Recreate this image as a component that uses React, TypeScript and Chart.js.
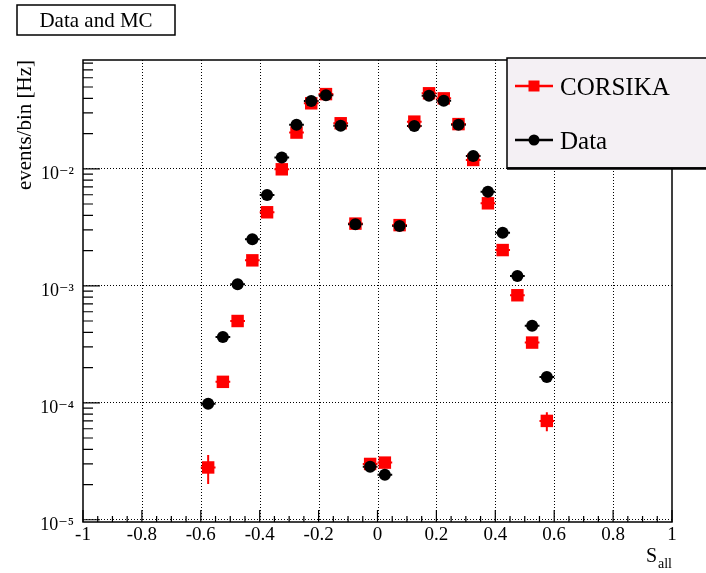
import React, { useEffect, useRef } from 'react';
import { Chart, registerables } from 'chart.js';

Chart.register(...registerables);

const FONT = '"Liberation Serif", "DejaVu Serif", "Times New Roman", serif';

// ---- data ----
const binCenters = [
  -0.575, -0.525, -0.475, -0.425, -0.375, -0.325, -0.275, -0.225, -0.175, -0.125, -0.075, -0.025,
  0.025, 0.075, 0.125, 0.175, 0.225, 0.275, 0.325, 0.375, 0.425, 0.475, 0.525, 0.575,
];
const binHalfWidth = 0.025;

const corsikaValues = [
  2.8e-5, 1.51e-4, 5.0e-4, 1.65e-3, 4.25e-3, 9.9e-3, 0.0204, 0.0363, 0.0435, 0.0245, 3.4e-3, 3.0e-5,
  3.08e-5, 3.3e-3, 0.0253, 0.0442, 0.04, 0.0241, 0.0119, 5.07e-3, 2.02e-3, 8.3e-4, 3.27e-4, 7.0e-5,
];
const corsikaErrors = [
  0.78e-5, 1.2e-5, 2.5e-5, 5e-5, 1e-4, 2e-4, 3e-4, 4e-4, 5e-4, 3e-4, 6e-5, 2e-6,
  2e-6, 6e-5, 3e-4, 5e-4, 5e-4, 3e-4, 2e-4, 1.2e-4, 7e-5, 4e-5, 2e-5, 1.3e-5,
];

const dataValues = [
  9.8e-5, 3.65e-4, 1.03e-3, 2.5e-3, 5.97e-3, 0.0125, 0.0238, 0.038, 0.0425, 0.0233, 3.36e-3, 2.84e-5,
  2.42e-5, 3.25e-3, 0.0232, 0.0422, 0.0382, 0.0238, 0.01285, 6.37e-3, 2.84e-3, 1.21e-3, 4.56e-4, 1.66e-4,
];
const dataErrors = [
  2e-6, 5e-6, 1e-5, 2e-5, 4e-5, 8e-5, 1.5e-4, 2e-4, 2e-4, 1.5e-4, 3e-5, 1e-6,
  1e-6, 3e-5, 1.5e-4, 2e-4, 2e-4, 1.5e-4, 8e-5, 4e-5, 2e-5, 1e-5, 5e-6, 3e-6,
];

const seriesLabels = ['CORSIKA', 'Data'];

const xTickValues = [-1, -0.8, -0.6, -0.4, -0.2, 0, 0.2, 0.4, 0.6, 0.8, 1];
const xTickLabels = ['-1', '-0.8', '-0.6', '-0.4', '-0.2', '0', '0.2', '0.4', '0.6', '0.8', '1'];
const yTickValues = [1e-5, 1e-4, 1e-3, 1e-2];
const yTickLabels = ['10\u207B\u2075', '10\u207B\u2074', '10\u207B\u00B3', '10\u207B\u00B2'];

const chartTitle = 'Data and MC';
const xTitleMain = 'S';
const xTitleSub = 'all';
const yTitle = 'events/bin [Hz]';

const X_MIN = -1;
const X_MAX = 1;
const Y_MIN = 9.57e-6;
const Y_MAX = 0.0851;

const gridPlugin = {
  id: 'dottedGrid',
  beforeDatasetsDraw(chart: any) {
    const { ctx, chartArea } = chart;
    const { left, right, top, bottom } = chartArea;
    const xs = chart.scales.x;
    const ys = chart.scales.y;
    ctx.save();
    ctx.strokeStyle = '#000';
    ctx.lineWidth = 1;
    ctx.setLineDash([1, 2]);
    ctx.beginPath();
    xTickValues.forEach((v) => {
      if (Math.abs(v) > 0.999) return;
      const px = Math.round(xs.getPixelForValue(v)) + 0.5;
      ctx.moveTo(px, top);
      ctx.lineTo(px, bottom);
    });
    yTickValues.forEach((v) => {
      const py = Math.round(ys.getPixelForValue(v)) - 0.5;
      ctx.moveTo(left, py);
      ctx.lineTo(right, py);
    });
    ctx.stroke();
    ctx.restore();
  },
};

const errorBarPlugin = {
  id: 'errorBars',
  beforeDatasetsDraw(chart: any) {
    const { ctx } = chart;
    const xs = chart.scales.x;
    const ys = chart.scales.y;
    ctx.save();
    chart.data.datasets.forEach((ds: any) => {
      ctx.strokeStyle = ds.borderColor;
      ctx.lineWidth = 2;
      ds.data.forEach((p: any, j: number) => {
        const px = xs.getPixelForValue(p.x);
        const py = ys.getPixelForValue(p.y);
        const x1 = xs.getPixelForValue(p.x - binHalfWidth);
        const x2 = xs.getPixelForValue(p.x + binHalfWidth);
        const e = ds.errors[j];
        const y1 = ys.getPixelForValue(p.y + e);
        const y2 = ys.getPixelForValue(Math.max(p.y - e, 1e-9));
        ctx.beginPath();
        ctx.moveTo(x1, py);
        ctx.lineTo(x2, py);
        ctx.moveTo(px, y1);
        ctx.lineTo(px, y2);
        ctx.stroke();
      });
    });
    ctx.restore();
  },
};

const framePlugin = {
  id: 'rootFrame',
  afterDraw(chart: any) {
    const { ctx, chartArea } = chart;
    const { left, right, top, bottom } = chartArea;
    const xs = chart.scales.x;
    const ys = chart.scales.y;
    ctx.save();
    // frame
    ctx.strokeStyle = '#000';
    ctx.lineWidth = 1.5;
    ctx.strokeRect(left, top, right - left, bottom - top);

    // x ticks (inward)
    ctx.lineWidth = 1.2;
    ctx.beginPath();
    for (let k = 0; k <= 40; k++) {
      const v = X_MIN + k * 0.05;
      const px = xs.getPixelForValue(v);
      const len = k % 4 === 0 ? 12 : 6;
      ctx.moveTo(px, bottom);
      ctx.lineTo(px, bottom - len);
    }
    // y ticks (inward)
    for (let d = -6; d <= -1; d++) {
      for (let m = 1; m <= 9; m++) {
        const v = m * Math.pow(10, d);
        if (v < Y_MIN || v > Y_MAX) continue;
        const py = ys.getPixelForValue(v);
        const len = m === 1 ? 17 : 10;
        ctx.moveTo(left, py);
        ctx.lineTo(left + len, py);
      }
    }
    ctx.stroke();

    // x axis title with subscript
    ctx.fillStyle = '#000';
    ctx.textBaseline = 'alphabetic';
    ctx.textAlign = 'left';
    ctx.font = `20px ${FONT}`;
    ctx.fillText(xTitleMain, 646, 562);
    ctx.font = `14px ${FONT}`;
    ctx.fillText(xTitleSub, 658, 568);

    // title box
    ctx.fillStyle = '#fff';
    ctx.fillRect(17, 5, 158, 30);
    ctx.strokeStyle = '#000';
    ctx.lineWidth = 1.5;
    ctx.strokeRect(17, 5, 158, 30);
    ctx.fillStyle = '#000';
    ctx.font = `21px ${FONT}`;
    ctx.textAlign = 'center';
    ctx.textBaseline = 'middle';
    ctx.fillText(chartTitle, 96, 21);

    // legend
    const lx = 507;
    const ly = 58;
    const lw = 230;
    const lh = 110;
    ctx.fillStyle = '#f4f0f4';
    ctx.fillRect(lx, ly, lw, lh);
    ctx.strokeStyle = '#000';
    ctx.lineWidth = 1.5;
    ctx.strokeRect(lx, ly, lw, lh);
    ctx.lineWidth = 2.5;
    ctx.beginPath();
    ctx.moveTo(lx, ly + lh + 0.5);
    ctx.lineTo(lx + lw, ly + lh + 0.5);
    ctx.stroke();

    const entries = [
      { label: seriesLabels[0], color: '#ff0000', y: 86, style: 'rect' },
      { label: seriesLabels[1], color: '#000000', y: 140, style: 'circle' },
    ];
    entries.forEach((e) => {
      ctx.strokeStyle = e.color;
      ctx.fillStyle = e.color;
      ctx.lineWidth = 2.5;
      ctx.beginPath();
      ctx.moveTo(515, e.y);
      ctx.lineTo(553, e.y);
      ctx.stroke();
      if (e.style === 'rect') {
        ctx.fillRect(528.5, e.y - 5.5, 11, 11);
      } else {
        ctx.beginPath();
        ctx.arc(534, e.y, 5.5, 0, Math.PI * 2);
        ctx.fill();
      }
      ctx.fillStyle = '#000';
      ctx.font = `25px ${FONT}`;
      ctx.textAlign = 'left';
      ctx.textBaseline = 'middle';
      ctx.fillText(e.label, 560, e.y + 2);
    });
    ctx.restore();
  },
};

export default function App() {
  const canvasRef = useRef<HTMLCanvasElement | null>(null);

  useEffect(() => {
    if (!canvasRef.current) return;
    const corsikaPoints = binCenters.map((x, i) => ({ x, y: corsikaValues[i] }));
    const dataPoints = binCenters.map((x, i) => ({ x, y: dataValues[i] }));

    const chart = new Chart(canvasRef.current, {
      type: 'scatter',
      data: {
        datasets: [
          {
            label: seriesLabels[0],
            data: corsikaPoints,
            errors: corsikaErrors,
            borderColor: '#ff0000',
            backgroundColor: '#ff0000',
            pointStyle: 'rect',
            pointRadius: 8.8,
            pointBorderWidth: 0,
            showLine: false,
            order: 2,
          } as any,
          {
            label: seriesLabels[1],
            data: dataPoints,
            errors: dataErrors,
            borderColor: '#000000',
            backgroundColor: '#000000',
            pointStyle: 'circle',
            pointRadius: 6,
            pointBorderWidth: 0,
            showLine: false,
            order: 1,
          } as any,
        ],
      },
      options: {
        animation: false,
        responsive: false,
        devicePixelRatio: 1,
        layout: { padding: { top: 60, right: 34, left: 0, bottom: 0 } },
        plugins: {
          legend: { display: false },
          tooltip: { enabled: false },
          title: { display: false },
        },
        scales: {
          x: {
            type: 'linear',
            min: X_MIN,
            max: X_MAX,
            afterBuildTicks: (scale: any) => {
              scale.ticks = xTickValues.map((v) => ({ value: v }));
            },
            afterFit: (scale: any) => {
              scale.height = 51;
            },
            ticks: {
              autoSkip: false,
              maxRotation: 0,
              padding: 2,
              color: '#000',
              font: { family: FONT, size: 19 },
              callback: (_v: any, i: number) => xTickLabels[i],
            },
            grid: { display: false, drawTicks: false },
            border: { display: false },
          },
          y: {
            type: 'logarithmic',
            min: Y_MIN,
            max: Y_MAX,
            afterBuildTicks: (scale: any) => {
              scale.ticks = yTickValues.map((v) => ({ value: v, major: true }));
            },
            afterFit: (scale: any) => {
              scale.width = 83;
            },
            ticks: {
              autoSkip: false,
              padding: 9,
              labelOffset: 5,
              color: '#000',
              font: { family: FONT, size: 18 },
              callback: (_v: any, i: number) => yTickLabels[i],
            },
            grid: { display: false, drawTicks: false },
            border: { display: false },
            title: {
              display: true,
              text: yTitle,
              align: 'end',
              color: '#000',
              font: { family: FONT, size: 21 },
              padding: { top: 13, bottom: 0 },
            },
          },
        },
      } as any,
      plugins: [gridPlugin, errorBarPlugin, framePlugin],
    });
    return () => chart.destroy();
  }, []);

  return (
    <div style={{ position: 'absolute', left: 0, top: 0, width: 706, height: 573, background: '#fff' }}>
      <canvas ref={canvasRef} width={706} height={573} style={{ display: 'block' }} />
    </div>
  );
}
